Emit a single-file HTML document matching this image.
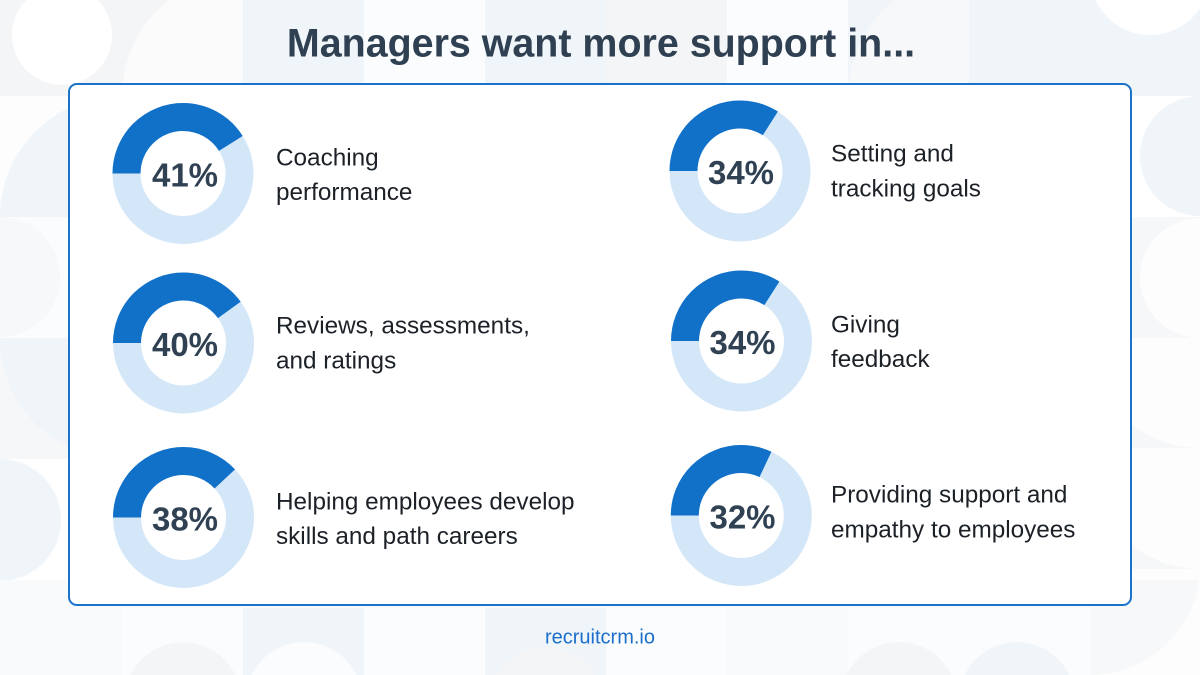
<!DOCTYPE html>
<html>
<head>
<meta charset="utf-8">
<style>
  html,body{margin:0;padding:0;background:#f8f9fb;}
  body{width:1200px;height:675px;overflow:hidden;}
  svg{display:block;}
  .lbl{font-family:"Liberation Sans",Arial,sans-serif;font-size:24.3px;fill:#1c2127;}
  .pct{font-family:"Liberation Sans",Arial,sans-serif;font-size:33px;font-weight:bold;fill:#2f4152;}
</style>
</head>
<body>
<svg width="1200" height="675" viewBox="0 0 1200 675" xmlns="http://www.w3.org/2000/svg">
  <!-- background tiles -->
  <rect x="0" y="0" width="1200" height="675" fill="#f8f9fb"/>
  <g>
    <!-- top row -->
    <rect x="0" y="0" width="122" height="96" fill="#f4f5f7"/>
    <path d="M26.3 0 A50 50 0 1 0 97.7 0 Z" fill="#ffffff"/>
    <rect x="122" y="0" width="121" height="96" fill="#f4f5f7"/>
    <path d="M122 96 A121 121 0 0 1 169.3 0 L243 0 L243 96 Z" fill="#fbfbfc"/>
    <rect x="243" y="0" width="121" height="96" fill="#f0f5fa"/>
    <rect x="364" y="0" width="121" height="96" fill="#fbfcfd"/>
    <rect x="485" y="0" width="121" height="96" fill="#f0f5fa"/>
    <rect x="606" y="0" width="121" height="96" fill="#f4f5f7"/>
    <rect x="727" y="0" width="121" height="96" fill="#fbfcfd"/>
    <rect x="848" y="0" width="121" height="96" fill="#f0f5fa"/>
    <path d="M848 96 A121 121 0 0 1 895.3 0 L969 0 L969 96 Z" fill="#f6f8fa"/>
    <rect x="969" y="0" width="121" height="96" fill="#f0f5fa"/>
    <rect x="1090" y="0" width="110" height="96" fill="#f0f5fa"/>
    <path d="M1095.5 0 A60 60 0 0 0 1200 8.2 L1200 0 Z" fill="#ffffff"/>
    <!-- left column -->
    <rect x="0" y="96" width="122" height="121" fill="#fdfdfe"/>
    <path d="M0 217 A121 121 0 0 1 121 96 L121 217 Z" fill="#f0f5fa"/>
    <rect x="0" y="217" width="122" height="121" fill="#fbfcfd"/>
    <path d="M0 217 A60 60 0 0 1 0 337 Z" fill="#f6f8fa"/>
    <rect x="0" y="338" width="122" height="121" fill="#f6f7f8"/>
    <path d="M0 338 A121 121 0 0 0 121 459 L121 338 Z" fill="#f0f5fa"/>
    <rect x="0" y="459" width="122" height="121" fill="#ffffff"/>
    <path d="M0 459 A61 61 0 0 1 0 581 Z" fill="#f0f5fa"/>
    <rect x="0" y="580" width="122" height="95" fill="#f9fafc"/>
    <!-- right column -->
    <rect x="1090" y="96" width="110" height="121" fill="#ffffff"/>
    <path d="M1200 96 A60 60 0 0 0 1200 216 Z" fill="#f0f5fa"/>
    <rect x="1090" y="217" width="110" height="121" fill="#f6f7f8"/>
    <path d="M1200 218 A60 60 0 0 0 1200 338 Z" fill="#fdfdfe"/>
    <rect x="1090" y="338" width="110" height="121" fill="#fdfdfe"/>
    <path d="M1090 338 A110 110 0 0 0 1200 448 L1090 448 Z" fill="#f6f7f8"/>
    <rect x="1090" y="459" width="110" height="121" fill="#fdfdfe"/>
    <path d="M1090 459 A110 110 0 0 0 1200 569 L1090 569 Z" fill="#f6f7f8"/>
    <rect x="1090" y="580" width="110" height="95" fill="#f7f8f9"/>
    <path d="M1090 675 A110 110 0 0 0 1200 565 L1200 675 Z" fill="#fdfdfe"/>
    <!-- bottom row -->
    <rect x="122" y="608" width="121" height="67" fill="#fbfcfd"/>
    <path d="M130.7 675 A58 58 0 0 1 235.3 675 Z" fill="#f4f5f7"/>
    <rect x="243" y="608" width="121" height="67" fill="#f0f5fa"/>
    <path d="M251.7 675 A58 58 0 0 1 356.3 675 Z" fill="#fbfcfd"/>
    <rect x="364" y="608" width="121" height="67" fill="#fbfcfd"/>
    <rect x="485" y="608" width="121" height="67" fill="#f0f5fa"/>
    <path d="M495.4 675 A58 58 0 0 1 594.6 675 Z" fill="#f4f5f7"/>
    <rect x="606" y="608" width="121" height="67" fill="#fbfcfd"/>
    <rect x="848" y="608" width="121" height="67" fill="#fbfcfd"/>
    <path d="M846.7 675 A58 58 0 0 1 951.3 675 Z" fill="#f4f5f7"/>
    <rect x="969" y="608" width="121" height="67" fill="#fbfcfd"/>
    <path d="M964.7 675 A58 58 0 0 1 1069.3 675 Z" fill="#f0f5fa"/>
  </g>

  <!-- Title -->
  <text x="601" y="56.5" text-anchor="middle" font-family="'Liberation Sans',Arial,sans-serif" font-size="39.4" font-weight="bold" fill="#2e4051">Managers want more support in...</text>

  <!-- Card -->
  <rect x="69" y="84" width="1062" height="521" rx="8" ry="8" fill="#ffffff" stroke="#1a72c9" stroke-width="2"/>

  <!-- Donuts: r=56.5, stroke 28, circumference 355 -->
  <g fill="none" stroke-width="28">
    <circle cx="183" cy="173.5" r="56.5" stroke="#d3e7f9"/>
    <circle cx="183" cy="173.5" r="56.5" stroke="#1170c8" stroke-dasharray="145.6 400" transform="rotate(180 183 173.5)"/>

    <circle cx="183.5" cy="343" r="56.5" stroke="#d3e7f9"/>
    <circle cx="183.5" cy="343" r="56.5" stroke="#1170c8" stroke-dasharray="142 400" transform="rotate(180 183.5 343)"/>

    <circle cx="183.5" cy="517.5" r="56.5" stroke="#d3e7f9"/>
    <circle cx="183.5" cy="517.5" r="56.5" stroke="#1170c8" stroke-dasharray="134.9 400" transform="rotate(180 183.5 517.5)"/>

    <circle cx="740" cy="171" r="56.5" stroke="#d3e7f9"/>
    <circle cx="740" cy="171" r="56.5" stroke="#1170c8" stroke-dasharray="120.7 400" transform="rotate(180 740 171)"/>

    <circle cx="741.5" cy="341" r="56.5" stroke="#d3e7f9"/>
    <circle cx="741.5" cy="341" r="56.5" stroke="#1170c8" stroke-dasharray="120.7 400" transform="rotate(180 741.5 341)"/>

    <circle cx="741.3" cy="515.5" r="56.5" stroke="#d3e7f9"/>
    <circle cx="741.3" cy="515.5" r="56.5" stroke="#1170c8" stroke-dasharray="113.6 400" transform="rotate(180 741.3 515.5)"/>
  </g>

  <!-- Percent labels -->
  <text class="pct" x="185" y="186.5" text-anchor="middle">41%</text>
  <text class="pct" x="185" y="356" text-anchor="middle">40%</text>
  <text class="pct" x="185" y="530.5" text-anchor="middle">38%</text>
  <text class="pct" x="741" y="184" text-anchor="middle">34%</text>
  <text class="pct" x="742.5" y="354" text-anchor="middle">34%</text>
  <text class="pct" x="742.5" y="528.5" text-anchor="middle">32%</text>

  <!-- Item labels -->
  <text class="lbl" x="276" y="165.7">Coaching</text>
  <text class="lbl" x="276" y="200.2">performance</text>

  <text class="lbl" x="276" y="333.3">Reviews, assessments,</text>
  <text class="lbl" x="276" y="368.3">and ratings</text>

  <text class="lbl" x="276" y="509.3">Helping employees develop</text>
  <text class="lbl" x="276" y="543.8">skills and path careers</text>

  <text class="lbl" x="831" y="161.7">Setting and</text>
  <text class="lbl" x="831" y="196.7">tracking goals</text>

  <text class="lbl" x="831" y="332.3">Giving</text>
  <text class="lbl" x="831" y="366.8">feedback</text>

  <text class="lbl" x="831" y="502.3">Providing support and</text>
  <text class="lbl" x="831" y="537.3">empathy to employees</text>

  <!-- Footer -->
  <text x="600" y="643.3" text-anchor="middle" font-family="'Liberation Sans',Arial,sans-serif" font-size="20" fill="#1b6fcb">recruitcrm.io</text>
</svg>
</body>
</html>
